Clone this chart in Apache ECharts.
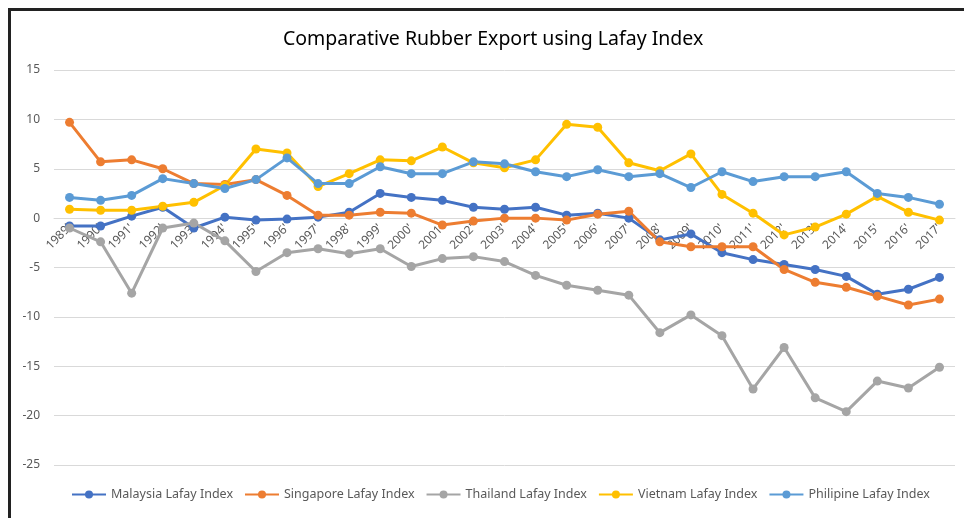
<!DOCTYPE html>
<html>
<head>
<meta charset="utf-8">
<script src="https://cdn.jsdelivr.net/npm/echarts@6/dist/echarts.min.js"></script>
<style>
    html, body { margin: 0; padding: 0; background: #fff; }
    #chartMain { width: 964px; height: 518px; }
    .frame {
        position: absolute; left: 8px; top: 8px; right: 0; bottom: 0;
        border-top: 3px solid #222; border-left: 3px solid #222;
        pointer-events: none;
    }
</style>
</head>
<body>
<div id="chartMain"></div>
<div class="frame"></div>
<script>
    // years on the x axis
    let years = ["1989'", "1990'", "1991'", "1992'", "1993'", "1994'", "1995'", "1996'", "1997'", "1998'",
        "1999'", "2000'", "2001'", "2002'", "2003'", "2004'", "2005'", "2006'", "2007'", "2008'",
        "2009'", "2010'", "2011'", "2012'", "2013'", "2014'", "2015'", "2016'", "2017'"];

    let malaysia = [-0.8, -0.8, 0.2, 1.1, -1.0, 0.1, -0.2, -0.1, 0.1, 0.6,
        2.5, 2.1, 1.8, 1.1, 0.9, 1.1, 0.3, 0.5, 0.0, -2.2,
        -1.6, -3.5, -4.2, -4.7, -5.2, -5.9, -7.7, -7.2, -6.0];

    let singapore = [9.7, 5.7, 5.9, 5.0, 3.5, 3.4, 3.9, 2.3, 0.3, 0.3,
        0.6, 0.5, -0.7, -0.3, 0.0, 0.0, -0.2, 0.4, 0.7, -2.4,
        -2.9, -2.9, -2.9, -5.2, -6.5, -7.0, -7.9, -8.8, -8.2];

    let thailand = [-1.0, -2.4, -7.6, -1.0, -0.5, -2.3, -5.4, -3.5, -3.1, -3.6,
        -3.1, -4.9, -4.1, -3.9, -4.4, -5.8, -6.8, -7.3, -7.8, -11.6,
        -9.8, -11.9, -17.3, -13.1, -18.2, -19.6, -16.5, -17.2, -15.1];

    let vietnam = [0.9, 0.8, 0.8, 1.2, 1.6, 3.3, 7.0, 6.6, 3.2, 4.5,
        5.9, 5.8, 7.2, 5.6, 5.1, 5.9, 9.5, 9.2, 5.6, 4.8,
        6.5, 2.4, 0.5, -1.7, -0.9, 0.4, 2.2, 0.6, -0.2];

    let philipine = [2.1, 1.8, 2.3, 4.0, 3.5, 3.0, 3.9, 6.1, 3.5, 3.5,
        5.2, 4.5, 4.5, 5.7, 5.5, 4.7, 4.2, 4.9, 4.2, 4.5,
        3.1, 4.7, 3.7, 4.2, 4.2, 4.7, 2.5, 2.1, 1.4];

    let seriesList = [
        { name: 'Malaysia Lafay Index', data: malaysia, color: '#4472C4' },
        { name: 'Singapore Lafay Index', data: singapore, color: '#ED7D31' },
        { name: 'Thailand Lafay Index', data: thailand, color: '#A5A5A5' },
        { name: 'Vietnam Lafay Index', data: vietnam, color: '#FFC000' },
        { name: 'Philipine Lafay Index', data: philipine, color: '#5B9BD5' }
    ];

    let font = 'Noto Sans';
    let yMin = -25, yMax = 15;
    let gridTop = 70, gridBottom = 53;
    // the category axis sits on the zero line, like Excel does
    let zeroOffset = -(518 - gridTop - gridBottom) * (0 - yMin) / (yMax - yMin);

    let myChart = echarts.init(document.getElementById('chartMain'));

    myChart.setOption({
        animation: false,
        title: {
            text: 'Comparative Rubber Export using Lafay Index',
            left: 278,
            top: 24,
            textStyle: { fontFamily: font, fontSize: 19.5, fontWeight: 'normal', color: '#000' }
        },
        legend: {
            bottom: 12,
            left: 66,
            itemWidth: 34,
            itemHeight: 10,
            itemGap: 11,
            textStyle: { fontFamily: font, fontSize: 12.5, color: '#595959' },
            data: seriesList.map(s => s.name)
        },
        grid: { left: 54, right: 9, top: gridTop, bottom: gridBottom },
        xAxis: {
            type: 'category',
            data: years,
            boundaryGap: true,
            offset: zeroOffset,
            axisLine: { onZero: false, lineStyle: { color: '#d9d9d9' } },
            axisTick: { show: false },
            axisLabel: { rotate: 45, fontFamily: font, fontSize: 12, color: '#595959', margin: 8 }
        },
        yAxis: {
            type: 'value',
            min: yMin,
            max: yMax,
            interval: 5,
            axisLine: { show: false },
            axisTick: { show: false },
            splitLine: { lineStyle: { color: '#d9d9d9', width: 1 } },
            axisLabel: { fontFamily: font, fontSize: 12, color: '#595959', margin: 14 }
        },
        series: seriesList.map(s => ({
            name: s.name,
            type: 'line',
            data: s.data,
            symbol: 'circle',
            symbolSize: 9,
            color: s.color,
            lineStyle: { width: 3, color: s.color },
            itemStyle: { color: s.color }
        }))
    });
</script>
</body>
</html>
